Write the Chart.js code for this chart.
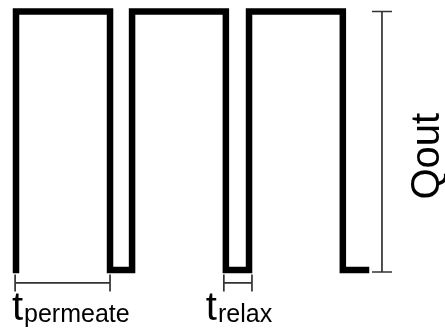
<!DOCTYPE html>
<html>
<head>
<meta charset="utf-8">
<script src="https://cdn.jsdelivr.net/npm/chart.js@4"></script>
<style>
  html, body { margin: 0; padding: 0; background: #fff; }
  #wrap { width: 445px; height: 333px; }
</style>
</head>
<body>
<div id="wrap"><canvas id="pulseChart" width="445" height="333"></canvas></div>
<script>
// Square wave: permeate / relax cycles (time in relax units)
const waveTime  = [0, 0, 4.18, 4.18, 5.16, 5.16, 9.33, 9.33, 10.36, 10.36, 14.53, 14.53, 15.56];
const waveLevel = [0, 1, 1,    0,    0,    1,    1,    0,    0,     1,     1,     0,     0];

// dimension marks
const dimLevel     = -0.05;          // level of the time dimension lines
const permeateSpan = [-0.04, 4.18];
const relaxSpan    = [9.24, 10.49];
const qoutAt       = 16.27;          // time where Qout bar stands
const qoutSpan     = [0, 1];

// labels
const permeateLabel = { main: "t", sub: "permeate", at: -0.18 };
const relaxLabel    = { main: "t", sub: "relax",    at: 8.44 };
const qoutLabel     = "Qout";
const qoutLabelAt   = 0.44;          // level of the label centre

const FONT = '"Liberation Sans", Arial, sans-serif';

const annotate = {
  id: "annotate",
  afterDatasetsDraw(chart) {
    const { ctx, scales: { x, y } } = chart;
    ctx.save();
    ctx.strokeStyle = "#333";
    ctx.lineWidth = 1.7;

    // vertical Qout bar with caps
    const qx = x.getPixelForValue(qoutAt);
    const qTop = y.getPixelForValue(qoutSpan[1]);
    const qBot = y.getPixelForValue(qoutSpan[0]) + 2;
    ctx.beginPath();
    ctx.moveTo(qx, qTop); ctx.lineTo(qx, qBot);
    ctx.moveTo(qx - 10, qTop); ctx.lineTo(qx + 10, qTop);
    ctx.moveTo(qx - 10, qBot); ctx.lineTo(qx + 10, qBot);
    ctx.stroke();

    // horizontal time spans with end ticks
    const dy = y.getPixelForValue(dimLevel);
    [permeateSpan, relaxSpan].forEach(span => {
      const a = x.getPixelForValue(span[0]);
      const b = x.getPixelForValue(span[1]);
      ctx.beginPath();
      ctx.moveTo(a, dy); ctx.lineTo(b, dy);
      ctx.moveTo(a, dy - 8.5); ctx.lineTo(a, dy + 8.5);
      ctx.moveTo(b, dy - 8.5); ctx.lineTo(b, dy + 8.5);
      ctx.stroke();
    });

    // t labels with subscripts
    ctx.fillStyle = "#000";
    ctx.textBaseline = "alphabetic";
    ctx.textAlign = "left";
    [permeateLabel, relaxLabel].forEach(lbl => {
      const lx = x.getPixelForValue(lbl.at);
      ctx.font = "40px " + FONT;
      ctx.fillText(lbl.main, lx, 320);
      const w = ctx.measureText(lbl.main).width;
      ctx.font = "25px " + FONT;
      ctx.fillText(lbl.sub, lx + w + 1, 322);
    });

    // rotated Qout
    ctx.translate(qx + 57, y.getPixelForValue(qoutLabelAt));
    ctx.rotate(-Math.PI / 2);
    ctx.font = "40px " + FONT;
    ctx.textAlign = "center";
    ctx.fillText(qoutLabel, 0, 0);
    ctx.restore();
  }
};

new Chart(document.getElementById("pulseChart"), {
  type: "scatter",
  data: {
    datasets: [{
      data: waveTime.map((t, i) => ({ x: t, y: waveLevel[i] })),
      showLine: true,
      borderColor: "#000",
      borderWidth: 6.5,
      borderJoinStyle: "miter",
      borderCapStyle: "square",
      pointRadius: 0,
      tension: 0,
      clip: false
    }]
  },
  options: {
    responsive: false,
    animation: false,
    layout: { padding: { left: 16, right: 79, top: 11.5, bottom: 63 } },
    plugins: { legend: { display: false }, tooltip: { enabled: false } },
    scales: {
      x: { type: "linear", min: 0, max: 15.56, display: false },
      y: { min: 0, max: 1, display: false }
    }
  },
  plugins: [annotate]
});
</script>
</body>
</html>
